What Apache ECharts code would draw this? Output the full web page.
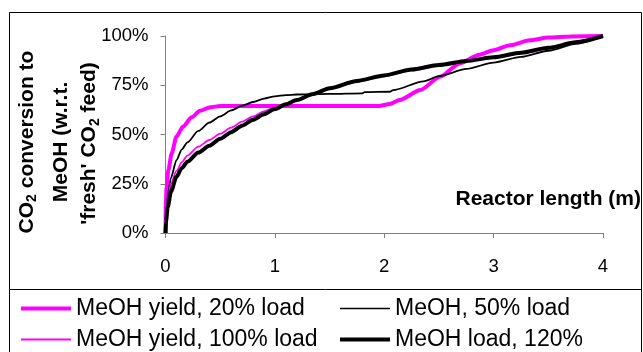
<!DOCTYPE html>
<html><head><meta charset="utf-8">
<script src="https://cdn.jsdelivr.net/npm/echarts@6/dist/echarts.min.js"></script>
<style>html,body{margin:0;padding:0;background:#fff}#c{width:643px;height:352px}</style>
</head><body><div id="c"></div>
<script>
// ---- data ----
const seriesNames = ['MeOH yield, 20% load', 'MeOH, 50% load', 'MeOH yield, 100% load', 'MeOH load, 120%'];
const xTicks = [0, 1, 2, 3, 4];
const yTicks = [0, 25, 50, 75, 100];

const x20 = [0, 0.003, 0.01, 0.026, 0.057, 0.10, 0.16, 0.24, 0.315, 0.41, 0.5, 1.0, 1.5, 1.95, 2.05, 2.14, 2.33, 2.51, 2.69, 2.87, 3.0, 3.15, 3.33, 3.5, 3.7, 4.0];
const y20 = [0, 14, 23.5, 32, 40.5, 48.9, 54, 58.7, 62.1, 63.8, 64.5, 64.5, 64.5, 64.5, 65.5, 67.5, 72.6, 79.3, 86.1, 90.5, 92.8, 95.3, 97.8, 99.2, 99.8, 100];

const x50 = [0, 0.005, 0.02, 0.05, 0.1, 0.15, 0.2, 0.3, 0.4, 0.5, 0.6, 0.7, 0.8, 0.9, 1.0, 1.1, 1.2, 1.5, 1.8, 1.82, 2.05, 2.08, 2.36, 2.5, 2.75, 3.0, 3.25, 3.5, 3.75, 4.0];
const y50 = [0, 8, 19, 28, 37, 42.5, 46, 51.8, 56, 59.2, 62.2, 64.6, 66.5, 68.2, 69.4, 70, 70.3, 70.6, 70.9, 71.5, 71.7, 72.5, 77, 79.6, 83.3, 86.5, 89.4, 92.5, 96, 100];

const x100 = [0, 0.005, 0.02, 0.05, 0.1, 0.15, 0.2, 0.3, 0.4, 0.5, 0.6, 0.7, 0.8, 0.9, 1.0, 1.1, 1.2, 1.35, 1.5, 1.75, 2.0, 2.25, 2.5, 2.75, 3.0, 3.25, 3.5, 3.75, 4.0];
const y100 = [0, 9, 17, 25, 31.5, 36, 39.3, 43.8, 47.2, 50.4, 53.5, 56.5, 59.2, 61.7, 63.8, 65.6, 67.5, 70.2, 73.1, 76.8, 79.6, 82.6, 84.9, 87, 88.9, 91.1, 93.6, 96.5, 100];

const x120 = [0, 0.005, 0.02, 0.05, 0.1, 0.15, 0.2, 0.3, 0.4, 0.5, 0.6, 0.7, 0.8, 0.9, 1.0, 1.1, 1.2, 1.35, 1.5, 1.75, 2.0, 2.25, 2.5, 2.75, 3.0, 3.25, 3.5, 3.75, 4.0];
const y120 = [0, 6, 13, 21, 28.5, 33, 36.2, 40.8, 44.3, 47.8, 51.2, 54.5, 57.5, 60.3, 62.9, 65.3, 67.5, 70.6, 73.5, 77.2, 80, 83, 85.3, 87.3, 89.2, 91.5, 94, 96.8, 100];

// ---- chart ----
const FF = '"Liberation Sans", Arial, sans-serif';
const zip = (xs, ys) => xs.map((x, i) => [x, ys[i]]);
const chart = echarts.init(document.getElementById('c'), null, {renderer: 'canvas'});

function mkSeries(name, xs, ys, color, width) {
  return {
    name, type: 'line', data: zip(xs, ys), symbol: 'none', showSymbol: false,
    smooth: 0.25, smoothMonotone: 'x',
    lineStyle: {color, width}, itemStyle: {color}, z: 2
  };
}

// legend line-sample icons (50 x 14 box, line centred)
const ICON_THICK = 'path://M0,0L0,0ZM0,5L50,5L50,9L0,9ZM0,14L0,14Z';
const ICON_THIN  = 'path://M0,0L0,0ZM0,6L50,6L50,8L0,8ZM0,14L0,14Z';
const ICON_HAIR  = 'path://M0,0L0,0ZM0,6.3L50,6.3L50,7.7L0,7.7ZM0,14L0,14Z';

const legendBase = {
  orient: 'vertical', top: 297, itemWidth: 50, itemHeight: 14, itemGap: 8, padding: 0,
  textStyle: {fontSize: 23, fontFamily: FF, color: '#000', lineHeight: 23},
  selectedMode: false, symbolKeepAspect: false
};

const TITLE_FONT = 'bold 21px ' + FF;
const SUB_FONT = 'bold 14px ' + FF;

chart.setOption({
  animation: false,
  backgroundColor: '#fff',
  grid: {left: 165.5, right: 40, top: 36, bottom: 119, containLabel: false},
  xAxis: {
    type: 'value', min: xTicks[0], max: xTicks[xTicks.length - 1], interval: 1,
    axisLine: {show: true, lineStyle: {color: '#808080', width: 1}},
    axisTick: {show: true, length: 5, lineStyle: {color: '#808080'}},
    axisLabel: {fontSize: 18.5, fontFamily: FF, color: '#000', margin: 24},
    splitLine: {show: false}
  },
  yAxis: {
    type: 'value', min: yTicks[0], max: yTicks[yTicks.length - 1], interval: 25,
    axisLine: {show: true, lineStyle: {color: '#808080', width: 1}},
    axisTick: {show: true, length: 5, lineStyle: {color: '#808080'}},
    axisLabel: {fontSize: 18.5, fontFamily: FF, color: '#000', margin: 17, formatter: '{value}%'},
    splitLine: {show: false}
  },
  legend: [
    Object.assign({}, legendBase, {left: 21, data: [
      {name: seriesNames[0], icon: ICON_THICK},
      {name: seriesNames[2], icon: ICON_THIN}]}),
    Object.assign({}, legendBase, {left: 340, data: [
      {name: seriesNames[1], icon: ICON_HAIR},
      {name: seriesNames[3], icon: ICON_THICK}]})
  ],
  series: [
    mkSeries(seriesNames[0], x20, y20, '#FF00FF', 4),
    mkSeries(seriesNames[1], x50, y50, '#000000', 1.8),
    mkSeries(seriesNames[2], x100, y100, '#FF00FF', 1.8),
    mkSeries(seriesNames[3], x120, y120, '#000000', 4)
  ],
  graphic: [
    {type: 'rect', silent: true, shape: {x: 9.5, y: 12.5, width: 632, height: 360},
     style: {fill: 'none', stroke: '#000', lineWidth: 1}, z: -1},
    {type: 'line', silent: true, shape: {x1: 9.5, y1: 289.5, x2: 641.5, y2: 289.5},
     style: {stroke: '#000', lineWidth: 1}},
    {type: 'text', x: 641, y: 199, silent: true,
     style: {text: 'Reactor length (m)', font: TITLE_FONT, fill: '#000', align: 'right', verticalAlign: 'middle'}},
    {type: 'text', x: 27, y: 142, rotation: Math.PI / 2, silent: true,
     style: {text: '{b|CO}{s|2}{b| conversion to}', align: 'center', verticalAlign: 'middle',
       rich: {b: {font: TITLE_FONT, fill: '#000', lineHeight: 25},
              s: {font: SUB_FONT, fill: '#000', lineHeight: 15, verticalAlign: 'bottom'}}}},
    {type: 'text', x: 61.5, y: 142, rotation: Math.PI / 2, silent: true,
     style: {text: 'MeOH (w.r.t.', font: TITLE_FONT, fill: '#000', align: 'center', verticalAlign: 'middle'}},
    {type: 'text', x: 89.5, y: 143.5, rotation: Math.PI / 2, silent: true,
     style: {text: "{b|'fresh' CO}{s|2}{b| feed)}", align: 'center', verticalAlign: 'middle',
       rich: {b: {font: TITLE_FONT, fill: '#000', lineHeight: 25},
              s: {font: SUB_FONT, fill: '#000', lineHeight: 15, verticalAlign: 'bottom'}}}}
  ]
});
</script>
</body></html>
